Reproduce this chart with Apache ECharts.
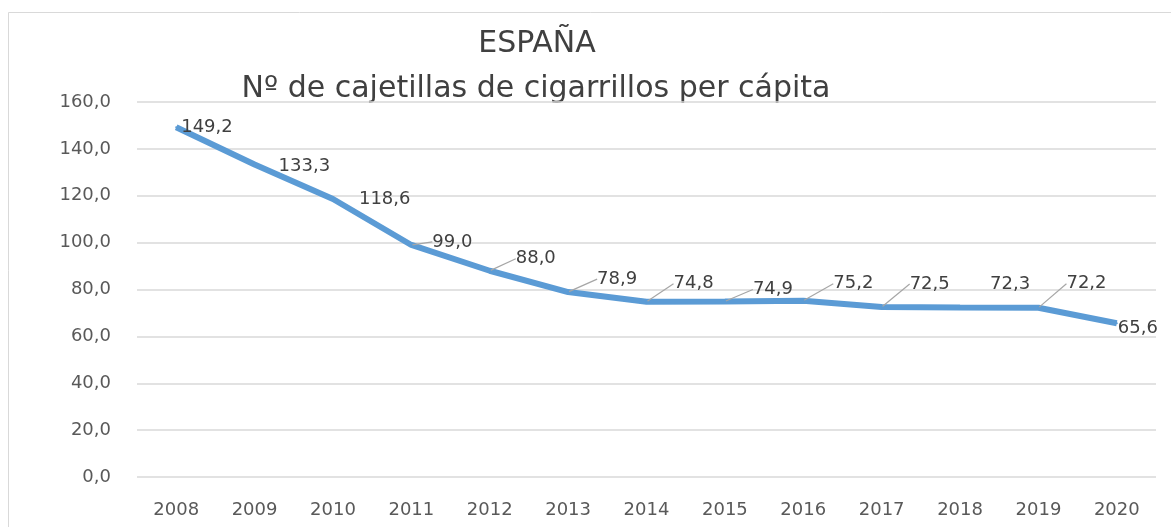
<!DOCTYPE html>
<html lang="es">
<head>
	<meta charset="UTF-8">
	<title>España - cajetillas per cápita</title>
	<style>
		html,body{background-color:#fff;height:100%;overflow:hidden;margin:0;padding:0;}
		#main{width:1171px;height:527px;}
	</style>
</head>
<body>
	<div id="main"></div>
	<script src="https://cdn.jsdelivr.net/npm/echarts@6/dist/echarts.min.js"></script>
	<script>
		// datos
		var years = ['2008','2009','2010','2011','2012','2013','2014','2015','2016','2017','2018','2019','2020'];
		var packs = [149.2, 133.3, 118.6, 99.0, 88.0, 78.9, 74.8, 74.9, 75.2, 72.5, 72.3, 72.2, 65.6];
		var titleLines = ['ESPAÑA', 'Nº de cajetillas de cigarrillos per cápita'];

		// desplazamiento de etiquetas (estilo Excel)
		var labelDx = [4, 23, 25, 20, 25, 28, 26, 27, 29, 27, 29, 27, 0];
		var labelDy = [0, 2, 0, -3, -12, -13, -18, -12, -17, -23, -23, -24, 5];
		var leader = [false, false, false, true, true, true, true, true, true, true, false, true, false];

		var fmt = function (v) { return v.toFixed(1).replace('.', ','); };
		var font = '"DejaVu Sans", sans-serif';

		var chart = echarts.init(document.getElementById('main'));
		var option = {
			animation: false,
			backgroundColor: '#fff',
			grid: { left: 137, right: 15, top: 102, bottom: 50 },
			graphic: [
				{ type: 'rect', shape: { x: 8.5, y: 12.5, width: 1200, height: 600 }, style: { fill: 'none', stroke: '#d9d9d9', lineWidth: 1 }, silent: true },
				{ type: 'text', x: 537, y: 44, style: { text: titleLines[0], font: '30px ' + font, fill: '#404040', align: 'center', verticalAlign: 'middle' } },
				{ type: 'text', x: 536, y: 89, style: { text: titleLines[1], font: '30px ' + font, fill: '#404040', align: 'center', verticalAlign: 'middle' } }
			],
			xAxis: {
				type: 'category',
				data: years,
				axisLine: { show: false },
				axisTick: { show: false },
				axisLabel: { color: '#595959', fontSize: 18, fontFamily: font, margin: 24 }
			},
			yAxis: {
				type: 'value',
				min: 0, max: 160, interval: 20,
				axisLabel: { color: '#595959', fontSize: 18, fontFamily: font, margin: 26, formatter: fmt },
				splitLine: { lineStyle: { color: '#d9d9d9', width: 1.5 } }
			},
			series: [{
				type: 'line',
				data: packs.map(function (v, i) {
					return { value: v, labelLine: { show: leader[i] } };
				}),
				symbol: 'circle',
				symbolSize: 2,
				showSymbol: true,
				itemStyle: { color: '#5b9bd5' },
				lineStyle: { color: '#5b9bd5', width: 6 },
				label: {
					show: true,
					position: 'right',
					distance: 0,
					color: '#404040',
					fontSize: 18,
					fontFamily: font,
					formatter: function (p) { return fmt(p.value); }
				},
				labelLine: { lineStyle: { color: '#a6a6a6', width: 1.2 } },
				labelLayout: function (p) {
					return { dx: labelDx[p.dataIndex], dy: labelDy[p.dataIndex] };
				}
			}]
		};
		chart.setOption(option);
	</script>
</body>
</html>
